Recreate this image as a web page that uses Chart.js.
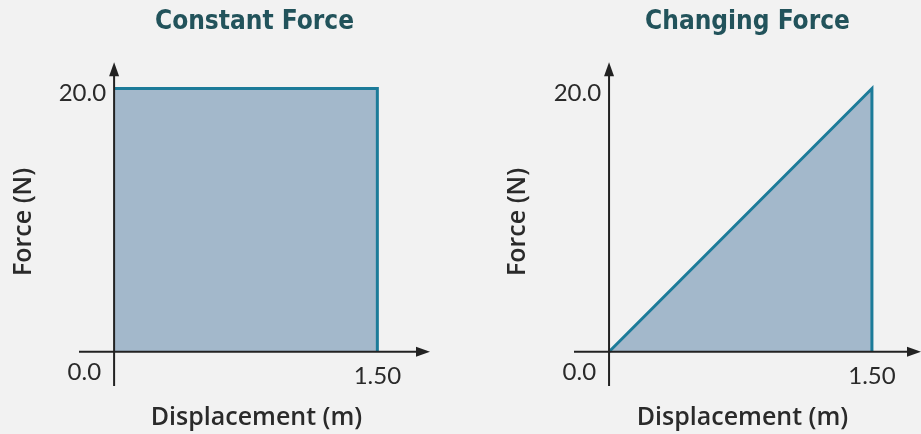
<!DOCTYPE html>
<html>
<head>
<meta charset="utf-8">
<script src="https://cdn.jsdelivr.net/npm/chart.js@4.4.1/dist/chart.umd.min.js"></script>
<style>
  html, body { margin: 0; padding: 0; background: #f2f2f2; }
  #wrap { position: relative; width: 921px; height: 434px; overflow: hidden; background: #f2f2f2; }
  .box { position: absolute; top: 0; height: 434px; }
  #b1 { left: 0; width: 460px; }
  #b2 { left: 460px; width: 461px; }
</style>
</head>
<body>
<div id="wrap">
  <div class="box" id="b1"><canvas id="c1"></canvas></div>
  <div class="box" id="b2"><canvas id="c2"></canvas></div>
</div>
<script>
// ---- Data ----
const chartTitles = ["Constant Force", "Changing Force"];
const xAxisTitle = "Displacement (m)";
const yAxisTitle = "Force (N)";
const constantX = [0, 1.5, 1.5];
const constantY = [20, 20, 0];
const changingX = [0, 1.5, 1.5];
const changingY = [0, 20, 0];
const xTickValues = [1.5];
const xTickLabels = ["1.50"];
const yTickValues = [20];
const yTickLabels = ["20.0"];
const originLabel = "0.0";

const FILL = "rgba(163,184,203,1)";
const STROKE = "#1c7b99";
const AXIS = "#222222";
const TEXT = "#2a2a2a";
const TITLE = "#22535b";
const FONT = "Lato, 'Open Sans', sans-serif";
const TFONT = "'Open Sans', Lato, sans-serif";

const axesPlugin = {
  id: 'axesArrows',
  afterDatasetsDraw(chart) {
    const ctx = chart.ctx;
    const xs = chart.scales.x, ys = chart.scales.y;
    const ca = chart.chartArea;
    const x0 = xs.getPixelForValue(0);
    const y0 = ys.getPixelForValue(0);
    ctx.save();
    ctx.strokeStyle = AXIS;
    ctx.fillStyle = AXIS;
    ctx.lineWidth = 2;
    // x axis
    ctx.beginPath();
    ctx.moveTo(ca.left, y0);
    ctx.lineTo(ca.right - 10, y0);
    ctx.stroke();
    ctx.beginPath();
    ctx.moveTo(ca.right, y0);
    ctx.lineTo(ca.right - 14, y0 - 5);
    ctx.lineTo(ca.right - 14, y0 + 5);
    ctx.closePath();
    ctx.fill();
    // y axis
    ctx.beginPath();
    ctx.moveTo(x0, ca.bottom);
    ctx.lineTo(x0, ca.top + 10);
    ctx.stroke();
    ctx.beginPath();
    ctx.moveTo(x0, ca.top);
    ctx.lineTo(x0 - 5, ca.top + 14);
    ctx.lineTo(x0 + 5, ca.top + 14);
    ctx.closePath();
    ctx.fill();

    // tick labels
    ctx.fillStyle = TEXT;
    ctx.font = "24px " + FONT;
    ctx.textBaseline = "middle";
    ctx.textAlign = "right";
    yTickValues.forEach((v, i) => {
      ctx.fillText(yTickLabels[i], x0 - 8, ys.getPixelForValue(v) + 5);
    });
    ctx.fillText(originLabel, x0 - 13, y0 + 20);
    ctx.textAlign = "center";
    xTickValues.forEach((v, i) => {
      ctx.fillText(xTickLabels[i], xs.getPixelForValue(v), y0 + 24);
    });

    // axis titles
    ctx.font = "600 25px " + TFONT;
    ctx.fillStyle = TEXT;
    ctx.textAlign = "center";
    ctx.fillText(xAxisTitle, (ca.left + ca.right) / 2 + chart.options.xTitleShift, 418);
    ctx.save();
    ctx.translate(chart.options.yTitleX, 222);
    ctx.rotate(-Math.PI / 2);
    ctx.fillText(yAxisTitle, 0, 0);
    ctx.restore();
    ctx.restore();
  }
};

function makeChart(id, title, xs, ys, xmax, padLeft, padRight, yTitleX, xTitleShift) {
  const pts = xs.map((x, i) => ({ x: x, y: ys[i] }));
  return new Chart(document.getElementById(id), {
    type: 'line',
    data: {
      datasets: [{
        data: pts,
        borderColor: STROKE,
        borderWidth: 3,
        backgroundColor: FILL,
        fill: 'origin',
        pointRadius: 0,
        tension: 0,
        borderJoinStyle: 'miter'
      }]
    },
    options: {
      responsive: true,
      maintainAspectRatio: false,
      animation: false,
      yTitleX: yTitleX,
      xTitleShift: xTitleShift,
      layout: { padding: { left: padLeft, right: padRight, top: 0, bottom: 48 } },
      plugins: {
        legend: { display: false },
        tooltip: { enabled: false },
        title: {
          display: true,
          text: title,
          color: TITLE,
          font: { family: "'DejaVu Sans Condensed', 'DejaVu Sans', sans-serif", size: 26, weight: 'bold' },
          padding: { top: 7, bottom: 24 }
        }
      },
      scales: {
        x: { type: 'linear', min: -0.2, max: xmax, display: false },
        y: { type: 'linear', min: -2.6, max: 22, display: false }
      }
    },
    plugins: [axesPlugin]
  });
}

makeChart('c1', chartTitles[0], constantX, constantY, 1.8, 79, 30, 24, 2);
makeChart('c2', chartTitles[1], changingX, changingY, 1.78, 114, 0, 58, -5);
</script>
</body>
</html>
